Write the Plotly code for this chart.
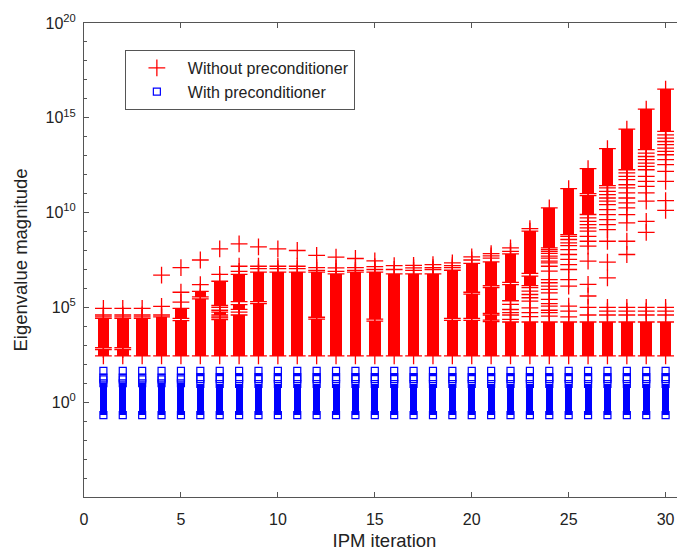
import plotly.graph_objects as go

iterations = list(range(1, 31))

# Dense clusters of eigenvalues per IPM iteration, as [log10 low, log10 high]
red_segments = [
    [[2.44, 2.78], [2.88, 4.42]],
    [[2.44, 2.78], [2.88, 4.42]],
    [[2.44, 4.42]],
    [[2.44, 4.50]],
    [[2.44, 4.30], [4.42, 4.95]],
    [[2.44, 5.45], [5.55, 5.84]],
    [[2.44, 4.35], [4.60, 4.75], [5.10, 6.38]],
    [[2.44, 4.60], [4.90, 5.15], [5.30, 6.74]],
    [[2.44, 5.20], [5.30, 6.86]],
    [[2.44, 6.86]],
    [[2.44, 6.86]],
    [[2.44, 4.38], [4.48, 6.86]],
    [[2.44, 6.77]],
    [[2.44, 6.86]],
    [[2.44, 4.28], [4.38, 6.86]],
    [[2.44, 6.77]],
    [[2.44, 6.77]],
    [[2.44, 6.77]],
    [[2.44, 4.32], [4.42, 6.96]],
    [[2.44, 4.32], [4.42, 5.70], [5.80, 7.32]],
    [[2.44, 4.25], [4.33, 4.60], [4.68, 6.05], [6.15, 7.40]],
    [[2.44, 4.23], [5.35, 6.20], [6.32, 7.82]],
    [[2.44, 4.23], [6.15, 6.65], [6.79, 9.02]],
    [[2.44, 4.23], [8.14, 10.25]],
    [[2.44, 4.23], [8.84, 11.26]],
    [[2.44, 4.23], [9.90, 10.90], [11.00, 12.32]],
    [[2.44, 4.23], [11.42, 13.37]],
    [[2.44, 4.23], [12.26, 14.40]],
    [[2.44, 4.23], [13.32, 15.46]],
    [[2.44, 4.23], [14.28, 16.51]],
]

# Isolated eigenvalues (log10) outside the dense clusters
red_points = [
    [4.50, 4.60, 4.95],
    [4.50, 4.60, 4.95],
    [4.50, 4.60, 4.95],
    [4.60, 5.05, 6.70],
    [5.28, 5.80, 7.10],
    [6.20, 7.50],
    [4.45, 4.50, 4.85, 5.00, 6.74, 8.09],
    [4.75, 6.90, 7.17, 8.35],
    [7.05, 7.17, 8.19],
    [7.05, 7.17, 8.09],
    [7.05, 7.17, 8.00],
    [6.95, 7.10, 7.74],
    [6.90, 7.08, 7.65],
    [6.95, 7.10, 7.58],
    [7.00, 7.15, 7.45],
    [7.00, 7.20],
    [6.95, 7.08, 7.22],
    [7.00, 7.10, 7.26],
    [7.10, 7.20, 7.35],
    [7.50, 7.67],
    [7.60, 7.72, 7.84],
    [4.37, 4.60, 4.72, 4.89, 5.16, 7.95, 8.14],
    [4.51, 4.72, 4.98, 5.33, 5.51, 5.68, 5.86, 6.04, 9.16],
    [8.05, 7.95, 7.85, 7.70, 7.60, 7.44, 7.35, 7.17, 6.91, 6.47, 6.30, 6.12,
     5.95, 5.77, 5.42, 5.20, 5.07, 4.85, 4.72, 4.54],
    [8.75, 8.58, 8.40, 8.26, 8.05, 7.79, 7.53, 7.26, 7.00, 6.47, 6.12, 5.07,
     4.80, 4.50],
    [9.72, 9.54, 9.37, 9.19, 9.02, 8.75, 8.49, 8.23, 7.44, 6.21, 5.60, 5.00,
     4.60],
    [11.30, 11.12, 10.95, 10.77, 10.60, 10.42, 10.16, 9.89, 9.63, 9.37, 9.10,
     8.49, 7.39, 6.56, 5.00, 4.80, 4.60],
    [12.09, 11.91, 11.74, 11.47, 11.30, 11.04, 10.77, 10.51, 10.25, 9.89,
     9.46, 8.49, 7.79, 5.00, 4.80, 4.60],
    [13.14, 12.96, 12.79, 12.61, 12.44, 12.26, 11.91, 11.65, 11.38, 11.04,
     10.60, 9.54, 8.96, 5.00, 4.80, 4.60],
    [14.10, 13.93, 13.75, 13.58, 13.40, 13.23, 13.05, 12.79, 12.53, 12.17,
     11.65, 10.63, 10.12, 5.00, 4.80, 4.60],
]

blue_low = [-0.68, -0.68, -0.68, -0.68, -0.68, -0.68, -0.68, -0.68, -0.68, -0.68,
            -0.68, -0.68, -0.68, -0.68, -0.68, -0.68, -0.68, -0.68, -0.68, -0.68,
            -0.68, -0.68, -0.68, -0.68, -0.68, -0.68, -0.68, -0.68, -0.68, -0.68]
blue_high = [1.00, 1.00, 1.00, 1.00, 1.00, 0.96, 0.96, 0.96, 0.96, 0.96,
             0.96, 0.96, 0.96, 0.96, 0.96, 0.96, 0.96, 0.96, 0.96, 0.96,
             0.96, 0.96, 0.96, 0.96, 0.96, 0.96, 0.96, 0.96, 0.96, 0.96]
blue_points = [[1.20, 1.30, 1.65]] * 5 + [[1.22, 1.32, 1.65]] * 25

y_tick_exp = [0, 5, 10, 15, 20]
y_tick_labels = ["10<sup>0</sup>", "10<sup>5</sup>", "10<sup>10</sup>",
                 "10<sup>15</sup>", "10<sup>20</sup>"]
x_ticks = [0, 5, 10, 15, 20, 25, 30]

RED = "#ff0000"
BLUE = "#0000ff"
FONT = "Liberation Sans, Arial, Helvetica, sans-serif"


def collect(segments, points):
    bx, base, size, mx, my = [], [], [], [], []
    for it, segs, pts in zip(iterations, segments, points):
        for lo, hi in segs:
            bx.append(it)
            base.append(10.0 ** lo)
            size.append(10.0 ** hi - 10.0 ** lo)
            mx += [it, it]
            my += [10.0 ** lo, 10.0 ** hi]
        for p in pts:
            mx.append(it)
            my.append(10.0 ** p)
    return bx, base, size, mx, my


rbx, rbase, rsize, rmx, rmy = collect(red_segments, red_points)
blue_segments = [[[lo, hi]] for lo, hi in zip(blue_low, blue_high)]
bbx, bbase, bsize, bmx, bmy = collect(blue_segments, blue_points)

fig = go.Figure()

# dense blocks of overlapping markers
fig.add_trace(go.Bar(x=rbx, y=rsize, base=rbase, width=0.6,
                     marker=dict(color=RED, line=dict(width=0)),
                     showlegend=False, hoverinfo="skip"))
fig.add_trace(go.Bar(x=bbx, y=bsize, base=bbase, width=0.36,
                     marker=dict(color=BLUE, line=dict(width=0)),
                     showlegend=False, hoverinfo="skip"))

fig.add_trace(go.Scatter(
    x=rmx, y=rmy, mode="markers", name="Without preconditioner",
    marker=dict(symbol="cross-thin", size=12, color=RED,
                line=dict(color=RED, width=1.3))
))
fig.add_trace(go.Scatter(
    x=bmx, y=bmy, mode="markers", name="With preconditioner",
    marker=dict(symbol="square-open", size=7, color=BLUE,
                line=dict(color=BLUE, width=1.2))
))

# the original figure is cropped on the right, so the axes run a bit past
# the window edge (x up to 31)
fig.update_layout(
    width=685, height=555,
    margin=dict(l=84, r=0, t=23, b=58, autoexpand=False),
    paper_bgcolor="white", plot_bgcolor="white",
    barmode="overlay", bargap=0,
    font=dict(family=FONT, size=16, color="#222222"),
    legend=dict(x=0.068, y=0.943, xanchor="left", yanchor="top",
                bordercolor="#555555", borderwidth=1, bgcolor="white",
                font=dict(size=16), itemwidth=52, tracegroupgap=0),
    xaxis=dict(
        range=[0, 31], tickmode="array", tickvals=x_ticks,
        ticks="inside", ticklen=5, tickcolor="#555555",
        showline=True, linecolor="#555555", linewidth=1, mirror="ticks",
        showgrid=False, zeroline=False, ticklabelstandoff=8,
        ticklabeloverflow="allow",
        title=dict(text="IPM iteration", font=dict(size=18.5), standoff=6),
    ),
    yaxis=dict(
        type="log", range=[-5, 20], tickmode="array",
        tickvals=[10.0 ** e for e in y_tick_exp], ticktext=y_tick_labels,
        ticks="inside", ticklen=5, tickcolor="#555555",
        minor=dict(tickmode="array", tickvals=[10.0 ** e for e in range(-5, 21)],
                   ticks="inside", ticklen=3, tickcolor="#555555"),
        showline=True, linecolor="#555555", linewidth=1,
        showgrid=False, zeroline=False, ticklabelstandoff=4,
        title=dict(text="Eigenvalue magnitude", font=dict(size=18.5), standoff=13),
    ),
)

# drop the default page margin so the figure starts at the window corner
fig.write_html("out.html", config={"displayModeBar": False},
               post_script="document.body.style.margin='0';"
                           "document.body.style.overflow='hidden';")
